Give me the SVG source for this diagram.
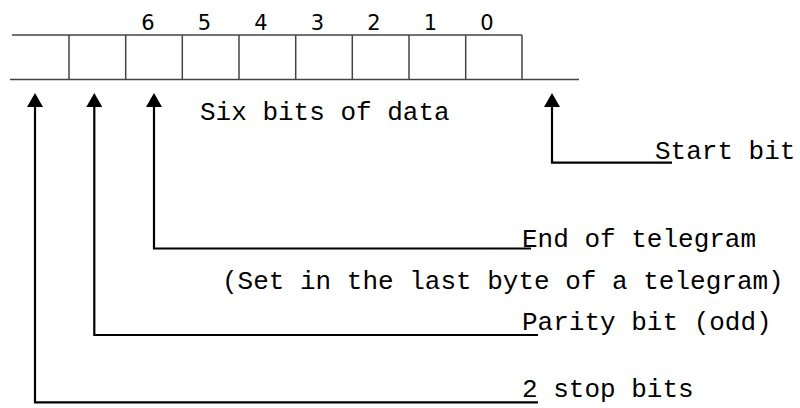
<svg xmlns="http://www.w3.org/2000/svg" width="800" height="408" viewBox="0 0 800 408">
<style>
.box{stroke:#444;stroke-width:1.5;fill:none}
.conn{stroke:#000;stroke-width:2.2;fill:none}
.lbl{font-family:"Liberation Mono","Courier New",monospace;font-size:26px;fill:#000}
.dig{font-family:"DejaVu Sans","Liberation Sans",sans-serif;font-size:21px;fill:#000;text-anchor:middle}
</style>
<defs>
<marker id="ah" viewBox="0 0 14 16" refX="0" refY="8" markerWidth="14" markerHeight="16" markerUnits="userSpaceOnUse" orient="auto">
<polygon points="0,0 14,8 0,16" fill="#000"/>
</marker>
</defs>
<g id="register">
<line class="box" x1="12" y1="35" x2="522" y2="35"/>
<line class="box" x1="10" y1="79.5" x2="579" y2="79.5"/>
<line class="box" x1="69" y1="35" x2="69" y2="79.5"/>
<line class="box" x1="125.7" y1="35" x2="125.7" y2="79.5"/>
<line class="box" x1="182.3" y1="35" x2="182.3" y2="79.5"/>
<line class="box" x1="239" y1="35" x2="239" y2="79.5"/>
<line class="box" x1="295.7" y1="35" x2="295.7" y2="79.5"/>
<line class="box" x1="352.3" y1="35" x2="352.3" y2="79.5"/>
<line class="box" x1="409" y1="35" x2="409" y2="79.5"/>
<line class="box" x1="465.7" y1="35" x2="465.7" y2="79.5"/>
<line class="box" x1="522" y1="35" x2="522" y2="79.5"/>
<text class="dig" x="148" y="30">6</text>
<text class="dig" x="204.5" y="30">5</text>
<text class="dig" x="261" y="30">4</text>
<text class="dig" x="317.5" y="30">3</text>
<text class="dig" x="374" y="30">2</text>
<text class="dig" x="430.5" y="30">1</text>
<text class="dig" x="487" y="30">0</text>
</g>
<g id="data-label"><text class="lbl" x="200" y="120">Six bits of data</text></g>
<g id="start-bit"><text class="lbl" x="655" y="159">Start bit</text></g>
<g id="end-of-telegram">
<text class="lbl" x="522" y="247">End of telegram</text>
<text class="lbl" x="222" y="289">(Set in the last byte of a telegram)</text>
</g>
<g id="parity-bit"><text class="lbl" x="522" y="330">Parity bit (odd)</text></g>
<g id="stop-bits"><text class="lbl" x="522" y="397">2 stop bits</text></g>
<g id="connectors">
<path class="conn" d="M672,162.7 H552 V107" marker-end="url(#ah)"/>
<path class="conn" d="M531,248.5 H154 V107" marker-end="url(#ah)"/>
<path class="conn" d="M538,335 H94.3 V107" marker-end="url(#ah)"/>
<path class="conn" d="M538,402.3 H35 V107" marker-end="url(#ah)"/>
</g>
</svg>
